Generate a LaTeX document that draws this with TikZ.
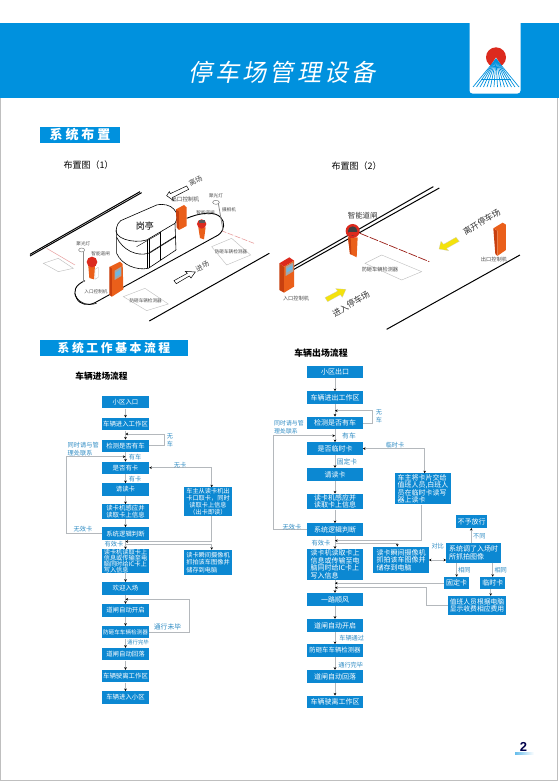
\documentclass[tikz,border=0pt]{standalone}
\usepackage{fontspec}
\usetikzlibrary{arrows.meta,calc}
\setmainfont{Noto Sans CJK SC}
\newfontfamily\titlefont[FakeSlant=0.2,LetterSpace=13]{Noto Sans CJK SC}
\newfontfamily\spacedfont[LetterSpace=22]{Noto Sans CJK SC}
\newfontfamily\numfont{Liberation Sans}
\definecolor{headblue}{HTML}{0091DE}
\definecolor{flowblue}{HTML}{0C88D2}
\definecolor{lblue}{HTML}{2F8CC4}
\definecolor{linegray}{HTML}{B4B8BC}
\definecolor{oran}{HTML}{EA5F1A}
\definecolor{orandk}{HTML}{C8400F}
\definecolor{redh}{HTML}{DC2A1E}
\definecolor{yel}{HTML}{F4E20C}
\definecolor{pinkl}{HTML}{E8A0A0}
\definecolor{diag}{HTML}{BDBDBD}
\tikzset{
  flow/.style={fill=flowblue,text=white,inner sep=0pt,align=center,font=\fontsize{6.4}{7.4}\selectfont},
  flowb/.style={flow,font=\fontsize{7}{7.6}\selectfont},
  lbl/.style={text=lblue,inner sep=0pt,align=left,font=\fontsize{6.2}{8}\selectfont},
  lblb/.style={lbl,font=\fontsize{6.8}{8.2}\selectfont},
  conn/.style={draw=linegray,line width=0.6pt,-{Stealth[length=2.6pt,width=2.6pt,color=black]}},
  both/.style={draw=linegray,line width=0.6pt,{Stealth[length=2.6pt,width=2.6pt,color=black]}-{Stealth[length=2.6pt,width=2.6pt,color=black]}},
  roadline/.style={draw=black,line width=1pt},
  tiny/.style={inner sep=0pt,text=black!70,font=\fontsize{4.6}{5}\selectfont},
  head/.style={inner sep=0pt,text=black,font=\fontsize{9}{10}\selectfont},
  banner/.style={fill=headblue,text=white,inner sep=0pt,font=\spacedfont\bfseries\fontsize{13}{14}\selectfont},
  det/.style={draw=diag,line width=0.4pt},
  boothline/.style={draw=black,line width=0.6pt},
}
\newcommand{\fb}[7][flow]{\node[#1,minimum width={(#5-#3)*1pt},minimum height={(#6-#4)*1pt}] (#2) at ({(#3+#5)/2},{(#4+#6)/2}) {#7};}
\begin{document}
\begin{tikzpicture}[x=1pt,y=-1pt]
\useasboundingbox (0,0) rectangle (559,782);
\fill[white] (0,0) rectangle (559,782);
\draw[black!25,line width=0.5pt] (0.5,98) -- (0.5,780.5) -- (557.5,780.5) -- (557.5,98);
% header
\fill[headblue] (0,23) rectangle (559,98);
\fill[white,rounded corners=3pt] (469.5,15) -- (469.5,93.5) -- (520.5,93.5) -- (520.5,15) -- cycle;
\fill[white] (468,10) rectangle (522,23);
\fill[redh] (496,57.3) circle (10);
\fill[white] (496,57.5) -- (508,76) -- (484,76) -- cycle;
\foreach \bx in {473,476.5,480,483.5,487,490.5,494,497.5,501,504.5,508,511.5,515,519}{
  \draw[headblue,line width=0.7pt] (496,59) -- (\bx,87);
}
\draw[headblue,line width=0.6pt] (481,79) -- (511,79);
\node[text=white,inner sep=0pt,font=\titlefont\fontsize{24}{26}\selectfont] (title) at (282,72) {停车场管理设备};
% banners
\node[banner,minimum width=80pt,minimum height=16pt] (ban1) at (80,135) {系统布置};
\node[banner,minimum width=148pt,minimum height=16pt,font=\spacedfont\bfseries\fontsize{11.8}{13}\selectfont] (ban2) at (114,347.7) {系统工作基本流程};
\node[head] (cap1) at (88.5,165) {布置图（1）};
\node[head] (cap2) at (356.5,166) {布置图（2）};

%%%%%% layout 1
\begin{scope}[shift={(30,150)},x=0.3333pt,y=-0.3333pt]
\draw[roadline] (0,313) -- (330,125);
\draw[roadline] (0,318) -- (335,128);
\draw[roadline] (358,513) -- (718,310);
\draw[det] (40,340) -- (85,325) -- (130,355) -- (85,365) -- cycle;
\draw[det] (545,290) -- (605,265) -- (662,315) -- (590,345) -- cycle;
\draw[det] (280,440) -- (345,415) -- (415,462) -- (350,482) -- cycle;
\draw[pinkl,line width=0.6pt,dash pattern=on 6pt off 1.5pt] (530,225) -- (672,280);
\draw[pinkl,line width=0.5pt] (50,295) -- (135,345);
% island
\draw[black,line width=0.9pt,fill=white] (165,392) .. controls (135,405) and (128,425) .. (140,445) .. controls (150,465) and (175,468) .. (195,458) -- (565,255) .. controls (585,240) and (585,215) .. (572,202) .. controls (555,185) and (520,185) .. (470,205);
\draw[black,line width=0.5pt] (135,430) .. controls (140,455) and (170,470) .. (200,460);
% booth
\draw[boothline,fill=white] (272,212) -- (380,165) .. controls (425,155) and (455,190) .. (435,220) -- (350,270) .. controls (310,282) and (245,265) .. (260,232) .. controls (261,225) and (265,218) .. (272,212) -- cycle;
\draw[boothline] (260,240) -- (260,310) .. controls (275,345) and (320,362) .. (355,355) -- (438,300);
\draw[boothline] (260,262) .. controls (278,300) and (320,320) .. (355,310) -- (435,260);
\draw[boothline] (352,270) -- (352,355);
\draw[boothline] (358,268) -- (358,353);
\draw[boothline] (390,245) -- (390,330);
\draw[boothline] (435,220) -- (438,300);
\draw[boothline,line width=0.4pt] (320,290) -- (390,250);
\draw[boothline,line width=0.4pt] (358,310) -- (435,262);
\node[inner sep=0pt,font=\fontsize{9}{10}\selectfont] (gt) at (345,228) {岗亭};
% exit machine
\fill[oran] (438,178) -- (462,165) -- (470,172) -- (470,228) -- (447,240) -- cycle;
\fill[orandk] (438,178) -- (447,185) -- (447,240) -- (440,232) -- cycle;
% gate right
\fill[oran] (505,232) -- (527,232) -- (522,268) -- (510,264) -- cycle;
\fill[redh] (515,222) circle[radius=14];
\fill[black!65] (506,211) rectangle (524,219);
% lamp right
\draw[black!45,line width=0.8pt] (565,160) -- (579,240);
\draw[black!60,line width=0.4pt,fill=white] (558,157) ellipse[x radius=10,y radius=6];
% gate left
\fill[white,draw=black!30,line width=0.3pt] (195,358) -- (205,352) -- (205,382) -- (195,388) -- cycle;
\fill[oran] (175,348) -- (195,348) -- (192,388) -- (178,384) -- cycle;
\fill[redh] (186,336) circle[radius=16];
% lamp left
\draw[black!45,line width=0.8pt] (160,306) -- (160,396);
\draw[black!60,line width=0.4pt,fill=white] (155,300) ellipse[x radius=9,y radius=6];
% entry machine
\fill[oran] (240,350) -- (270,335) -- (278,342) -- (280,418) -- (246,440) -- (240,436) -- cycle;
\fill[orandk] (238,350) -- (246,356) -- (246,440) -- (238,434) -- cycle;
\fill[black!35] (254,362) -- (274,350) -- (274,378) -- (254,390) -- cycle;
\fill[flowblue!60] (256,368) -- (272,358) -- (272,372) -- (256,382) -- cycle;
% white arrows
\draw[black,line width=0.5pt,fill=white] (410,137) -- (418,125) -- (421,131) -- (470,108) -- (476,118) -- (427,143) -- (431,152) -- cycle;
\draw[black,line width=0.5pt,fill=white] (496,366) -- (483,384) -- (478,378) -- (439,401) -- (432,392) -- (472,370) -- (466,364) -- cycle;
\node[tiny,rotate=28,font=\fontsize{7}{8}\selectfont] (t1) at (497,92) {离场};
\node[tiny,rotate=28,font=\fontsize{7}{8}\selectfont] (t2) at (517,350) {进场};
\node[tiny,font=\fontsize{5.6}{6}\selectfont] (t3) at (466,148) {出口控制机};
\node[tiny] (t4) at (558,136) {聚光灯};
\node[tiny] (t5) at (597,178) {摄相机};
\node[tiny] (t6) at (527,189) {智能道闸};
\node[tiny] (t7) at (212,310) {智能道闸};
\node[tiny] (t8) at (160,281) {聚光灯};
\node[tiny] (t9) at (198,426) {入口控制机};
\node[tiny] (t10) at (603,305) {防砸车辆检测器};
\node[tiny] (t11) at (347,452) {防砸车辆检测器};
\end{scope}

%%%%%% layout 2
\begin{scope}[shift={(270,150)},x=0.3333pt,y=-0.3333pt]
\draw[roadline] (70,350) -- (490,110);
\draw[roadline] (72,358) -- (508,114);
\draw[roadline] (350,538) -- (750,315);
\draw[det] (285,340) -- (335,315) -- (455,365) -- (395,390) -- cycle;
\draw[redh!70!black,line width=0.7pt,dash pattern=on 9pt off 1.5pt] (270,250) -- (478,335);
% gate
\fill[oran] (234,262) -- (263,262) -- (260,322) -- (240,312) -- cycle;
\fill[orandk] (234,262) -- (242,262) -- (244,314) -- (240,312) -- cycle;
\fill[redh] (248,243) circle[radius=21];
\fill[black!75] (248,243) circle[radius=14];
\fill[redh] (236,246) rectangle (260,256);
% entry machine
\fill[orandk] (28,340) -- (42,350) -- (42,428) -- (28,420) -- cycle;
\fill[redh] (28,340) -- (58,322) -- (72,332) -- (42,350) -- cycle;
\fill[oran] (42,350) -- (72,332) -- (72,410) -- (42,428) -- cycle;
\fill[black!35] (47,350) -- (70,337) -- (70,364) -- (47,378) -- cycle;
\fill[flowblue!60] (50,356) -- (67,346) -- (67,358) -- (50,368) -- cycle;
% exit machine
\fill[orandk] (670,235) -- (682,242) -- (682,318) -- (676,312) -- cycle;
\fill[oran] (670,235) -- (698,218) -- (708,224) -- (708,300) -- (682,318) -- (682,242) -- cycle;
% yellow arrows
\fill[yel,draw=black!20,line width=0.2pt] (228,418) -- (217,442) -- (211,434) -- (173,455) -- (165,443) -- (203,423) -- (197,416) -- cycle;
\fill[yel,draw=black!20,line width=0.2pt] (507,297) -- (513,274) -- (521,283) -- (558,262) -- (568,274) -- (530,295) -- (536,302) -- cycle;
\node[inner sep=0pt,text=black!80,font=\fontsize{7.4}{8}\selectfont] (s1) at (278,198) {智能道闸};
\node[tiny,font=\fontsize{5.2}{6}\selectfont] (s2) at (78,447) {入口控制机};
\node[tiny,font=\fontsize{5.2}{6}\selectfont] (s3) at (672,330) {出口控制机};
\node[tiny,font=\fontsize{5.2}{6}\selectfont] (s4) at (330,360) {防砸车辆检测器};
\node[inner sep=0pt,rotate=32,text=black!80,font=\fontsize{8.4}{9}\selectfont] (s5) at (243,462) {进入停车场};
\node[inner sep=0pt,rotate=32,text=black!80,font=\fontsize{8.4}{9}\selectfont] (s6) at (635,216) {离开停车场};
\end{scope}

%%%%%% flow 1
\node[head,font=\bfseries\fontsize{8.7}{10}\selectfont] (f1t) at (101.5,376) {车辆进场流程};
\fb{a1}{102}{395.7}{149}{408.3}{小区入口}
\fb{a2}{102}{417.7}{149}{430.3}{车辆进入工作区}
\fb{a3}{102}{439.7}{149}{451.7}{检测是否有车}
\fb{a4}{102}{461.7}{149}{473.7}{是否有卡}
\fb{a5}{102}{483.3}{149}{495.7}{请读卡}
\fb{a6}{102}{504.3}{149}{519}{读卡机感应并\\读取卡上信息}
\fb{a7}{102}{527.3}{149}{540}{系统逻辑判断}
\fb[flow,align=left,font=\fontsize{6.2}{5.9}\selectfont]{a8}{102}{549.3}{149}{572.7}{读卡机读取卡上\\信息或传输至电\\脑同时给IC卡上\\写入信息}
\fb{a9}{102}{582}{149}{594.7}{欢迎入场}
\fb{a10}{102}{604}{149}{616.7}{道闸自动开启}
\fb[flow,font=\fontsize{5.6}{6}\selectfont]{a11}{102}{626}{149}{638.3}{防砸车车辆检测器}
\fb{a12}{102}{648}{149}{660.3}{道闸自动回落}
\fb{a13}{102}{670}{149}{682.3}{车辆驶离工作区}
\fb{a14}{102}{691.3}{149}{703.7}{车辆进入小区}
\fb[flow,font=\fontsize{6.2}{7}\selectfont]{b1}{184.3}{487.3}{231.7}{516}{车主从读卡机出\\卡口取卡，同时\\读取卡上信息\\（出卡即读）}
\fb[flow,align=left,font=\fontsize{6.2}{7.6}\selectfont]{b2}{184.3}{550}{231.7}{574.7}{读卡瞬间摄像机\\抓拍该车图像并\\储存到电脑}
\foreach \p/\q in {a1/a2,a2/a3,a3/a4,a4/a5,a5/a6,a6/a7,a7/a8,a8/a9,a9/a10,a10/a11,a11/a12,a12/a13,a13/a14}{\draw[conn] (\p) -- (\q);}
\coordinate (c1) at (164,434);
\draw[conn] (a3.east) -| (c1) -- (a3.north |- c1);
\coordinate (c2) at (66,456.7);
\draw[conn] (a7.west) -| (c2) -- (a4.north |- c2);
\coordinate (c3) at (211.7,487.3);
\draw[both] (a4.east) -| (c3);
\coordinate (c4) at (211.7,541.5);
\draw[conn] (b1.south -| c4) -- (c4) -- (a7.south |- c4);
\coordinate (c5) at (211.7,544);
\draw[conn] (a7.south |- c5) -- (c5) -- (b2.north -| c5);
\coordinate (c6) at (189.3,599.3);
\draw[conn] (a11.east) -| (c6) -- (a10.north |- c6);
\node[lbl,anchor=west] (n1) at (67.5,445) {同时请与管};
\node[lbl,anchor=west] (n2) at (67.5,453) {理处联系};
\node[lbl] (n3) at (170,440) {无\\车};
\node[lbl] (n4) at (135,456.7) {有车};
\node[lbl] (n5) at (135,479) {有卡};
\node[lbl] (n6) at (180,465) {无卡};
\node[lbl] (n7) at (83,529) {无效卡};
\node[lbl] (n8) at (114,543.8) {有效卡};
\node[lblb] (n9) at (167.5,626.7) {通行未毕};
\node[lbl,font=\fontsize{5.4}{6}\selectfont] (n10) at (138,642.7) {通行完毕};

%%%%%% flow 2
\node[head,font=\bfseries\fontsize{8.9}{10}\selectfont] (f2t) at (321,353) {车辆出场流程};
\fb[flowb]{d1}{307.3}{365.7}{362.7}{378}{小区出口}
\fb[flowb]{d2}{307.3}{391.3}{362.7}{404}{车辆进出工作区}
\fb[flowb]{d3}{307.3}{416.7}{362.7}{429}{检测是否有车}
\fb[flowb]{d4}{307.3}{442.3}{362.7}{455}{是否临时卡}
\fb[flowb]{d5}{307.3}{468}{362.7}{480.7}{请读卡}
\fb[flowb]{d6}{307.3}{493.7}{362.7}{509.3}{读卡机感应并\\读取卡上信息}
\fb[flowb]{d7}{307.3}{523.3}{362.7}{536}{系统逻辑判断}
\fb[flowb,align=left]{d8}{307.3}{549}{362.7}{580}{读卡机读取卡上\\信息或传输至电\\脑同时给IC卡上\\写入信息}
\fb[flowb]{d9}{307.3}{593}{362.7}{606}{一路顺风}
\fb[flowb]{d10}{307.3}{619}{362.7}{631.7}{道闸自动开启}
\fb[flow,font=\fontsize{6.4}{7}\selectfont]{d11}{307.3}{644.3}{362.7}{656.7}{防砸车车辆检测器}
\fb[flowb]{d12}{307.3}{670}{362.7}{682.7}{道闸自动回落}
\fb[flowb]{d13}{307.3}{695.7}{362.7}{708.3}{车辆驶离工作区}
\fb[flowb,align=left]{e1}{395.3}{473.3}{450.7}{504.3}{车主将卡片交给\\值班人员,白班人\\员在临时卡读写\\器上读卡}
\fb[flowb]{e2}{456.3}{515}{486.7}{527.7}{不予放行}
\fb[flowb,align=left,font=\fontsize{7}{7.5}\selectfont]{e3}{446.3}{543.3}{501}{562.7}{系统调了入场时\\所抓拍图像}
\fb[flowb,align=left]{e4}{373.3}{546.7}{428.7}{573.3}{读卡瞬间摄像机\\抓拍该车图像并\\储存到电脑}
\fb[flowb]{e5}{444.3}{577}{469}{589.3}{固定卡}
\fb[flowb]{e6}{480.3}{577}{505.3}{589.3}{临时卡}
\fb[flow,align=left,font=\fontsize{6.8}{6.9}\selectfont]{e7}{448}{596}{506}{615.3}{值班人员根据电脑\\显示收费相应费用}
\foreach \p/\q in {d1/d2,d2/d3,d3/d4,d4/d5,d5/d6,d6/d7,d7/d8,d8/d9,d9/d10,d10/d11,d11/d12,d12/d13}{\draw[conn] (\p) -- (\q);}
\coordinate (g1) at (372.7,410.7);
\draw[conn] (d3.east) -| (g1) -- (d3.north |- g1);
\coordinate (g2) at (273.3,435.7);
\draw[conn] (d7.west) -| (g2) -- (d4.north |- g2);
\coordinate (g3) at (424.7,473.3);
\draw[both] (d4.east) -| (g3);
\coordinate (g4) at (421.7,540.7);
\draw[conn] (e1.south -| g4) -- (g4) -- (d7.south |- g4);
\coordinate (g5) at (397.3,543);
\draw[conn] (d7.south |- g5) -- (g5) -- (e4.north -| g5);
\draw[both] (e4.east) -- (e3.west |- e4.east);
\coordinate (g6) at (471.3,543.3);
\draw[conn] (g6) -- (e2.south -| g6);
\coordinate (g7) at (456.7,562.7);
\draw[conn] (g7) -- (e5.north -| g7);
\coordinate (g8) at (492.7,562.7);
\draw[conn] (g8) -- (e6.north -| g8);
\coordinate (g9) at (490.7,589.3);
\draw[conn] (g9) -- (e7.north -| g9);
\draw[conn] (e5.west) -- (d9.north |- e5.west);
\coordinate (g10) at (426.7,587.7);
\draw[conn] (e7.west) -| (g10) -- (d9.north |- g10);
\node[lbl,anchor=west,font=\fontsize{5.9}{7}\selectfont] (m1) at (274,423.3) {同时请与管};
\node[lbl,anchor=west,font=\fontsize{5.9}{7}\selectfont] (m2) at (274,431) {理处联系};
\node[lbl] (m3) at (379,416) {无\\车};
\node[lblb] (m4) at (349,435.7) {有车};
\node[lblb] (m5) at (347,462.3) {固定卡};
\node[lbl] (m6) at (395,445) {临时卡};
\node[lbl] (m7) at (292,526.7) {无效卡};
\node[lbl] (m8) at (321,543.5) {有效卡};
\node[lbl] (m9) at (437.7,545.7) {对比};
\node[lbl] (m10) at (479.3,536) {不同};
\node[lbl] (m11) at (464.3,570) {相同};
\node[lbl] (m12) at (500.7,570) {相同};
\node[lbl] (m13) at (351.7,638) {车辆通过};
\node[lbl] (m14) at (350.7,664.7) {通行完毕};

% page number
\shade[left color=headblue!60,right color=white] (515,752.3) rectangle (534,754);
\node[inner sep=0pt,text=black!70!blue,font=\numfont\bfseries\fontsize{13}{14}\selectfont] (pg) at (523.5,746.5) {2};
\end{tikzpicture}
\end{document}
